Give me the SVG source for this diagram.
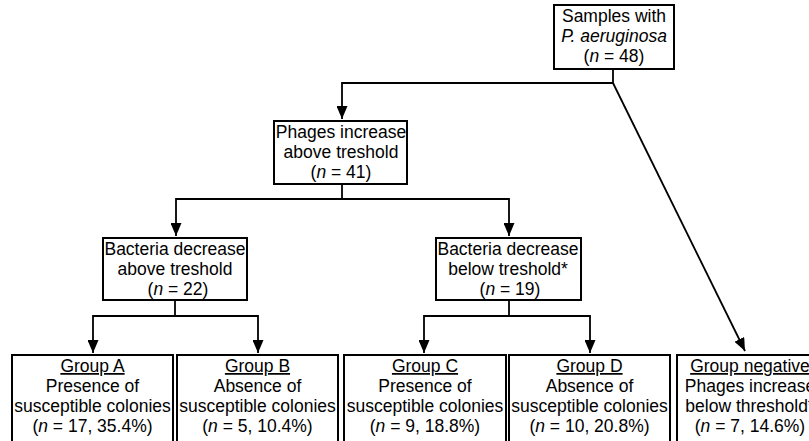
<svg xmlns="http://www.w3.org/2000/svg" width="809" height="441" viewBox="0 0 809 441">
<style>
.box{fill:#fff;stroke:#000;stroke-width:2}
.t{font-family:"Liberation Sans",Arial,sans-serif;font-size:17.5px;fill:#000;text-anchor:middle}
.i{font-style:italic}
.u{text-decoration:underline}
.c{fill:none;stroke:#000;stroke-width:1.8}
</style>
<defs>
<marker id="ah" viewBox="0 0 13 11" refX="13" refY="5.5" markerWidth="13" markerHeight="11" markerUnits="userSpaceOnUse" orient="auto">
<path d="M0,0 L13,5.5 L0,11 z" fill="#000"/>
</marker>
</defs>
<rect width="809" height="441" fill="#fff"/>
<g id="connectors">
<path class="c" d="M613,69 V83 H342 V119" marker-end="url(#ah)"/>
<path class="c" d="M613,83 L745,351" marker-end="url(#ah)"/>
<path class="c" d="M342,184 V199"/>
<path class="c" d="M342,199 H176 V236" marker-end="url(#ah)"/>
<path class="c" d="M342,199 H509 V236" marker-end="url(#ah)"/>
<path class="c" d="M175,300 V316"/>
<path class="c" d="M175,316 H93 V353" marker-end="url(#ah)"/>
<path class="c" d="M175,316 H258 V353" marker-end="url(#ah)"/>
<path class="c" d="M509,300 V316"/>
<path class="c" d="M509,316 H424 V353" marker-end="url(#ah)"/>
<path class="c" d="M509,316 H590 V353" marker-end="url(#ah)"/>
</g>
<g id="samples">
<rect class="box" x="554" y="5" width="120" height="64"/>
<text class="t" x="614" y="22">Samples with</text>
<text class="t i" x="614" y="42">P. aeruginosa</text>
<text class="t" x="614" y="62">(<tspan class="i">n</tspan> = 48)</text>
</g>
<g id="phages">
<rect class="box" x="274" y="121" width="133" height="63"/>
<text class="t" x="341" y="138">Phages increase</text>
<text class="t" x="341" y="158">above treshold</text>
<text class="t" x="341" y="178">(<tspan class="i">n</tspan> = 41)</text>
</g>
<g id="bact-above">
<rect class="box" x="103" y="238" width="144" height="62"/>
<text class="t" x="175" y="255">Bacteria decrease</text>
<text class="t" x="175" y="275">above treshold</text>
<text class="t" x="178" y="295">(<tspan class="i">n</tspan> = 22)</text>
</g>
<g id="bact-below">
<rect class="box" x="436" y="238" width="145" height="62"/>
<text class="t" x="508" y="255">Bacteria decrease</text>
<text class="t" x="508" y="275">below treshold*</text>
<text class="t" x="510" y="295">(<tspan class="i">n</tspan> = 19)</text>
</g>
<g id="groupA">
<rect class="box" x="12" y="355" width="161" height="100"/>
<text class="t u" x="92.5" y="372">Group A</text>
<text class="t" x="92.5" y="392">Presence of</text>
<text class="t" x="92.5" y="412">susceptible colonies</text>
<text class="t" x="92.5" y="432">(<tspan class="i">n</tspan> = 17, 35.4%)</text>
</g>
<g id="groupB">
<rect class="box" x="177" y="355" width="161" height="100"/>
<text class="t u" x="257.5" y="372">Group B</text>
<text class="t" x="257.5" y="392">Absence of</text>
<text class="t" x="257.5" y="412">susceptible colonies</text>
<text class="t" x="257.5" y="432">(<tspan class="i">n</tspan> = 5, 10.4%)</text>
</g>
<g id="groupC">
<rect class="box" x="344" y="355" width="162" height="100"/>
<text class="t u" x="425" y="372">Group C</text>
<text class="t" x="425" y="392">Presence of</text>
<text class="t" x="425" y="412">susceptible colonies</text>
<text class="t" x="425" y="432">(<tspan class="i">n</tspan> = 9, 18.8%)</text>
</g>
<g id="groupD">
<rect class="box" x="509" y="355" width="161" height="100"/>
<text class="t u" x="589.5" y="372">Group D</text>
<text class="t" x="589.5" y="392">Absence of</text>
<text class="t" x="589.5" y="412">susceptible colonies</text>
<text class="t" x="589.5" y="432">(<tspan class="i">n</tspan> = 10, 20.8%)</text>
</g>
<g id="groupNeg">
<rect class="box" x="677" y="355" width="161" height="100"/>
<text class="t u" x="750" y="372">Group negative</text>
<text class="t" x="750" y="392">Phages increase</text>
<text class="t" x="750" y="412">below threshold*</text>
<text class="t" x="750" y="432">(<tspan class="i">n</tspan> = 7, 14.6%)</text>
</g>
</svg>
